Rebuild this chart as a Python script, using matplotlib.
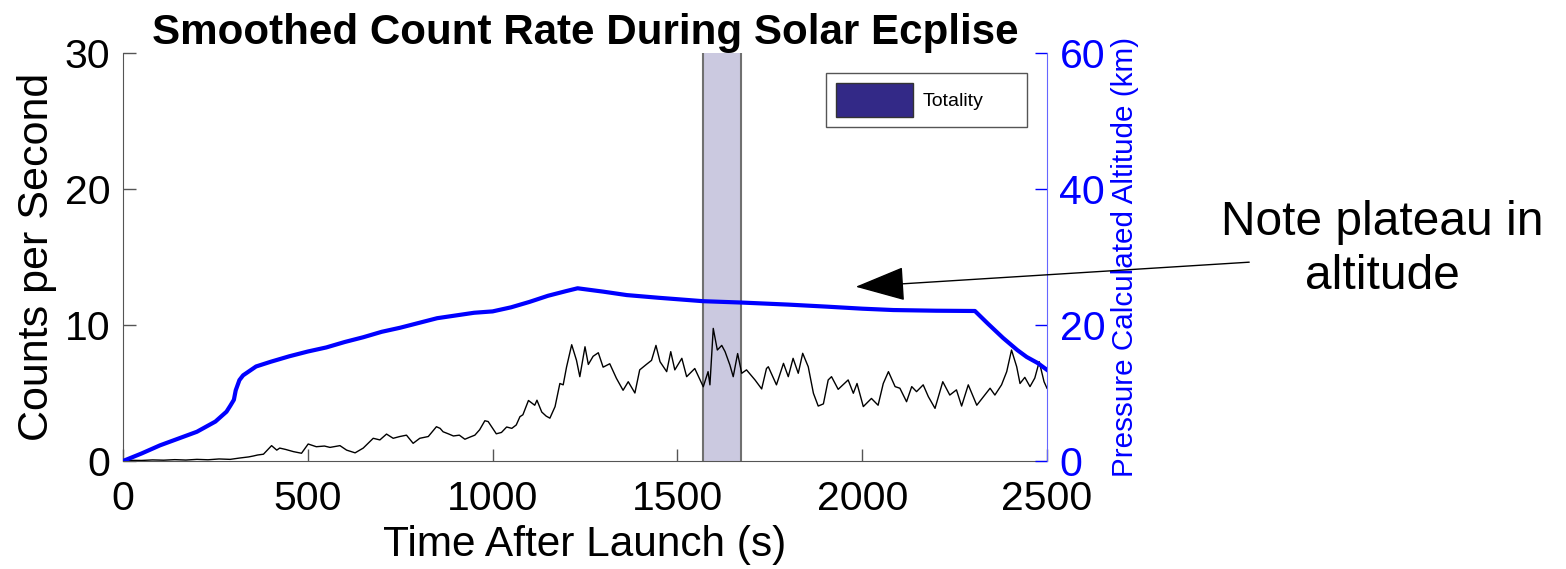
import matplotlib
matplotlib.use("Agg")
import matplotlib.pyplot as plt
from matplotlib.patches import Patch, Rectangle

plt.rcParams['font.family'] = ['Liberation Sans', 'DejaVu Sans']

# ---- data ----
count_time = [0, 20, 50, 80, 110, 140, 170, 200, 230, 260, 290, 316, 340, 353, 364, 380,
              402, 416, 424, 440, 461, 483, 501, 523, 545, 560, 587, 605, 628, 650, 677,
              695, 713, 731, 749, 767, 785, 803, 826, 848, 858, 866, 880, 894, 910, 925,
              938, 952, 965, 979, 988, 1010, 1024, 1038, 1052, 1064, 1074, 1082, 1097,
              1114, 1120, 1133, 1145, 1155, 1169, 1182, 1191, 1200, 1214, 1227, 1236,
              1250, 1259, 1272, 1286, 1299, 1317, 1335, 1353, 1367, 1385, 1398, 1416,
              1430, 1442, 1453, 1471, 1482, 1493, 1512, 1525, 1547, 1570, 1583, 1588,
              1597, 1608, 1620, 1629, 1642, 1651, 1663, 1674, 1687, 1710, 1728, 1741,
              1746, 1768, 1787, 1800, 1813, 1827, 1839, 1854, 1868, 1881, 1895, 1908,
              1917, 1935, 1962, 1976, 1986, 2003, 2025, 2043, 2057, 2071, 2089, 2102,
              2120, 2134, 2147, 2165, 2179, 2197, 2218, 2237, 2255, 2269, 2287, 2310,
              2328, 2346, 2359, 2377, 2391, 2404, 2418, 2427, 2440, 2454, 2467, 2479,
              2492, 2500]
count_rate = [0.02, 0.05, 0.04, 0.08, 0.06, 0.1, 0.07, 0.12, 0.09, 0.15, 0.12, 0.22, 0.3,
              0.37, 0.44, 0.5, 1.13, 0.8, 0.95, 0.85, 0.69, 0.57, 1.25, 1.05, 1.1, 1.0,
              1.13, 0.8, 0.6, 0.95, 1.67, 1.55, 1.98, 1.67, 1.8, 1.9, 1.3, 1.67, 1.8,
              2.52, 2.4, 2.15, 2.0, 1.84, 1.9, 1.6, 1.75, 1.9, 2.3, 2.96, 2.9, 2.0, 2.1,
              2.5, 2.4, 2.65, 3.26, 3.4, 4.45, 4.1, 4.47, 3.6, 3.3, 3.15, 4.0, 5.7, 5.6,
              6.9, 8.55, 7.4, 6.2, 8.4, 7.1, 7.7, 7.96, 6.9, 7.15, 6.08, 5.2, 5.83, 5.0,
              6.7, 7.1, 7.4, 8.5, 7.3, 6.57, 8.04, 6.7, 7.55, 6.2, 6.8, 5.46, 6.57, 5.6,
              9.75, 8.16, 8.5, 8.04, 7.06, 6.2, 7.9, 6.45, 6.7, 5.96, 5.3, 6.8, 6.93,
              5.6, 7.18, 6.2, 7.55, 6.45, 7.92, 6.93, 4.98, 4.04, 4.2, 5.96, 6.2, 5.27,
              5.96, 4.98, 5.7, 4.0, 4.6, 4.1, 5.7, 6.57, 5.47, 5.35, 4.36, 5.47, 5.1,
              5.6, 4.73, 3.87, 5.83, 4.85, 5.23, 4.04, 5.6, 4.1, 4.73, 5.35, 4.85, 5.6,
              6.57, 8.16, 6.93, 5.7, 6.15, 5.47, 6.1, 7.3, 5.83, 5.35]

alt_time = [0, 50, 100, 150, 200, 250, 280, 290, 300, 305, 315, 325, 360, 400, 450, 500,
            550, 600, 650, 700, 750, 800, 850, 900, 950, 1000, 1050, 1100, 1150, 1200,
            1230, 1300, 1363, 1450, 1570, 1674, 1800, 1904, 2000, 2084, 2200, 2305,
            2340, 2381, 2420, 2445, 2475, 2500]
altitude = [0, 1.1, 2.3, 3.3, 4.3, 5.8, 7.25, 8.1, 9.0, 10.4, 11.9, 12.6, 13.9, 14.6,
            15.4, 16.1, 16.7, 17.5, 18.2, 19.0, 19.6, 20.3, 21.0, 21.4, 21.8, 22.0,
            22.6, 23.4, 24.3, 25.0, 25.4, 24.9, 24.4, 24.0, 23.5, 23.3, 23.0, 22.7,
            22.4, 22.2, 22.1, 22.06, 20.2, 18.1, 16.3, 15.3, 14.4, 13.4]

totality = (1569, 1672)
x_ticks = [0, 500, 1000, 1500, 2000, 2500]
left_ticks = [0, 10, 20, 30]
right_ticks = [0, 20, 40, 60]

# ---- figure ----
W, H = 1566, 569
fig = plt.figure(figsize=(W / 100, H / 100), dpi=100)
ax = fig.add_axes([123 / W, 1 - 461 / H, (1047 - 123) / W, (461 - 53) / H])

navy = (0.2, 0.16, 0.53)
ax.axvspan(totality[0], totality[1], facecolor=navy, alpha=0.25, edgecolor='none', zorder=1)
ax.axvline(totality[0], color='#707070', lw=1.5, zorder=1.5)
ax.axvline(totality[1], color='#707070', lw=1.5, zorder=1.5)
ax.plot(count_time, count_rate, color='black', lw=1.0, zorder=3)

ax.set_xlim(0, 2500)
ax.set_ylim(0, 30)
ax.set_xticks(x_ticks)
ax.set_yticks(left_ticks)
ax.tick_params(direction='in', length=9, width=1, colors='#555555', labelcolor='black',
               labelsize=29.5)
ax.tick_params(axis='x', pad=14)
ax.tick_params(axis='y', pad=9)
ax.spines['top'].set_visible(False)
ax.spines['left'].set_color('#555555')
ax.spines['bottom'].set_color('#555555')
ax.spines['right'].set_visible(False)
ax.set_ylabel('Counts per Second', fontsize=31, labelpad=6)
ax.set_xlabel('Time After Launch (s)', fontsize=30.5, labelpad=5)
ax.set_title('Smoothed Count Rate During Solar Ecplise', fontsize=30.3, fontweight='bold', pad=4)

ax2 = ax.twinx()
ax2.plot(alt_time, altitude, color='#0000ff', lw=3.0, zorder=4)
ax2.set_ylim(0, 60)
ax2.set_yticks(right_ticks)
ax2.tick_params(direction='in', length=9, width=1, colors='#0000ff', labelsize=29.5, pad=9)
ax2.spines['right'].set_color('#6666ff')
for s in ['top', 'left', 'bottom']:
    ax2.spines[s].set_visible(False)
ax2.set_ylabel('Pressure Calculated Altitude (km)', color='#0000ff', fontsize=21.3, labelpad=4)

# legend: frame drawn separately to match the reference box size
ax2.add_patch(Rectangle((826 / W, 1 - 127 / H), (1027 - 826) / W, (127 - 73) / H,
                        transform=fig.transFigure, facecolor='white', clip_on=False,
                        edgecolor='#555555', lw=1.0, zorder=5))
leg = ax2.legend(handles=[Patch(facecolor=navy, edgecolor='#333333', label='Totality')],
                 loc='upper left', bbox_to_anchor=((826 - 123) / 924, 1 - (73 - 53) / 408),
                 fontsize=14, frameon=False,
                 handlelength=3.95, handleheight=2.3, borderpad=0.5, handletextpad=0.5,
                 borderaxespad=0)
leg.set_zorder(6)

# annotation
ax2.annotate('', xy=(1975, 25.6), xycoords='data',
             xytext=(1252 / W, 1 - 262 / H), textcoords='figure fraction',
             arrowprops=dict(arrowstyle='-|>,head_length=1.6,head_width=0.55',
                             color='black', lw=1.0, mutation_scale=20))
fig.text(1382 / W, 1 - 222 / H, 'Note plateau in', fontsize=34.5, ha='center', va='center')
fig.text(1382 / W, 1 - 276 / H, 'altitude', fontsize=34.5, ha='center', va='center')

fig.savefig('out.png', dpi=100)
